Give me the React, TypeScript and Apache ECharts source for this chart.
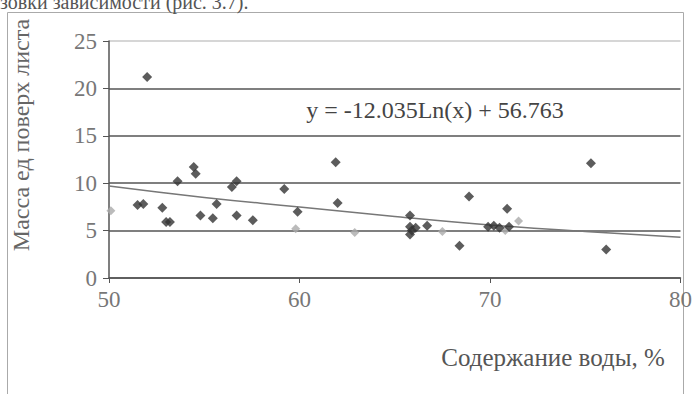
import React, { useEffect, useRef } from "react";
import * as echarts from "echarts";

const darkPoints: [number, number][] = [
  [51.5, 7.7], [51.8, 7.8], [52.0, 21.2], [52.8, 7.4], [53.0, 5.9], [53.2, 5.9],
  [53.6, 10.2], [54.45, 11.7], [54.55, 11.0], [54.8, 6.6], [55.45, 6.3], [55.65, 7.8],
  [56.45, 9.6], [56.7, 10.2], [56.7, 6.6], [57.55, 6.1], [59.2, 9.4], [59.9, 7.0],
  [61.9, 12.2], [62.0, 7.9], [65.8, 6.6], [65.8, 5.4], [65.9, 5.0], [65.8, 4.6],
  [66.1, 5.3], [66.7, 5.5], [68.4, 3.4], [68.9, 8.6], [69.9, 5.4], [70.2, 5.5],
  [70.5, 5.3], [70.9, 7.3], [71.0, 5.4], [75.3, 12.1], [76.1, 3.0],
];
const fadedPoints: [number, number][] = [
  [50.1, 7.1], [59.8, 5.2], [62.9, 4.8], [67.5, 4.9], [71.5, 6.0], [70.8, 5.0],
];
const trendPoints: [number, number][] = [
  [50, 9.7], [55, 8.5], [60, 7.5], [65, 6.5], [70, 5.6], [75, 4.9], [80, 4.3],
];
const xTicks = [50, 60, 70, 80];
const yTicks = [0, 5, 10, 15, 20, 25];
const yTitle = "Масса ед поверх листа";
const xTitle = "Содержание воды, %";
const equation = "y = -12.035Ln(x) + 56.763";
const topText = "зовки зависимости (рис. 3.7).";

const FONT = "'Liberation Serif', 'DejaVu Serif', serif";

export default function App() {
  const ref = useRef<HTMLDivElement>(null);
  useEffect(() => {
    if (!ref.current) return;
    const chart = echarts.init(ref.current, null, { renderer: "svg" });
    chart.setOption({
      animation: false,
      backgroundColor: "#ffffff",
      grid: { left: 109, right: 12, top: 41, bottom: 116, containLabel: false },
      xAxis: {
        type: "value",
        min: xTicks[0],
        max: xTicks[xTicks.length - 1],
        interval: 10,
        axisLine: { lineStyle: { color: "#555", width: 1.5 } },
        axisTick: { show: true, inside: false, length: 5, lineStyle: { color: "#555" } },
        axisLabel: { color: "#777", fontFamily: FONT, fontSize: 23, margin: 10 },
        splitLine: { show: false },
      },
      yAxis: {
        type: "value",
        min: yTicks[0],
        max: yTicks[yTicks.length - 1],
        interval: 5,
        axisLine: { show: true, lineStyle: { color: "#555", width: 1.5 } },
        axisTick: { show: true, inside: false, length: 6, lineStyle: { color: "#555" } },
        axisLabel: { color: "#777", fontFamily: FONT, fontSize: 23, margin: 12 },
        splitLine: {
          show: true,
          lineStyle: { color: ["#555", "#555", "#555", "#555", "#555", "#c8c8c8"], width: 1.5 },
        },
      },
      graphic: [
        {
          type: "text",
          left: 0,
          top: -8,
          style: { text: topText, font: `20px ${FONT}`, fill: "#555" },
        },
        {
          type: "rect",
          shape: { x: 7.5, y: 12.5, width: 676, height: 400 },
          style: { fill: "none", stroke: "#aaa", lineWidth: 1 },
          z: -1,
        },
        {
          type: "text",
          x: 21,
          y: 135,
          rotation: Math.PI / 2,
          style: {
            text: yTitle,
            font: `24px ${FONT}`,
            fill: "#666",
            align: "center",
            verticalAlign: "middle",
          },
        },
        {
          type: "text",
          x: 553,
          y: 357,
          style: {
            text: xTitle,
            font: `25px ${FONT}`,
            fill: "#555",
            align: "center",
            verticalAlign: "middle",
          },
        },
        {
          type: "text",
          x: 435,
          y: 110,
          style: {
            text: equation,
            font: `24px ${FONT}`,
            fill: "#444",
            align: "center",
            verticalAlign: "middle",
          },
        },
      ],
      series: [
        {
          type: "line",
          data: trendPoints,
          smooth: true,
          symbol: "none",
          lineStyle: { color: "#777", width: 1.5 },
          z: 1,
        },
        {
          type: "scatter",
          data: fadedPoints,
          symbol: "diamond",
          symbolSize: 9,
          itemStyle: { color: "#aaa" },
          z: 2,
        },
        {
          type: "scatter",
          data: darkPoints,
          symbol: "diamond",
          symbolSize: 10,
          itemStyle: { color: "#333" },
          z: 3,
        },
      ],
    });
    return () => chart.dispose();
  }, []);
  return (
    <div
      ref={ref}
      style={{ position: "fixed", left: 0, top: 0, width: 695, height: 394, background: "#fff" }}
    />
  );
}
